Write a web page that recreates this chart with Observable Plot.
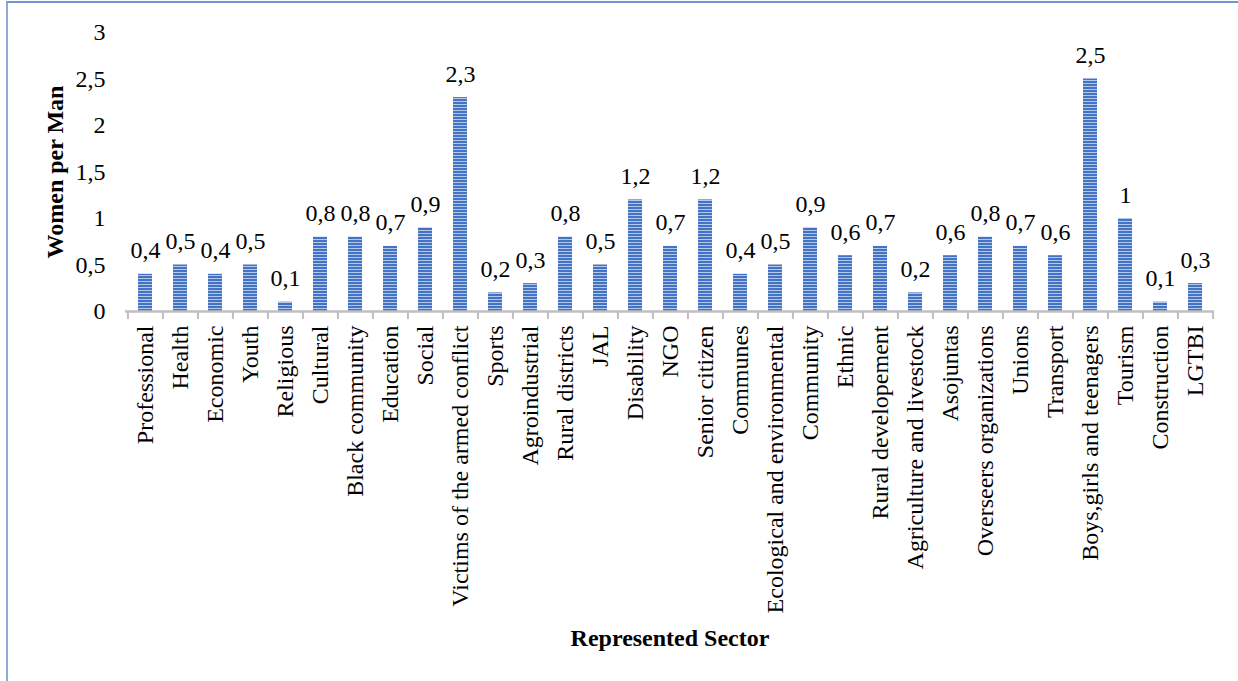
<!DOCTYPE html>
<html>
<head>
<meta charset="utf-8">
<script src="https://cdn.jsdelivr.net/npm/d3@7"></script>
<script src="https://cdn.jsdelivr.net/npm/@observablehq/plot@0.6"></script>
<style>
  html, body { margin: 0; padding: 0; background: #fff; overflow: hidden; }
  #frame {
    position: absolute; left: 6px; top: 1px; width: 1400px; height: 900px;
    border-left: 2px solid #8eaadb; border-top: 2px solid #6f95d6;
    box-sizing: border-box;
  }
  #chart { position: absolute; left: 0; top: 0; }
  #chart svg text { font-family: 'Liberation Serif', 'Times New Roman', serif; }
</style>
</head>
<body>
<div id="frame"></div>
<div id="chart"></div>
<script>
// Women per man in each represented sector
const sectors = [
  "Professional", "Health", "Economic", "Youth", "Religious", "Cultural",
  "Black community", "Education", "Social", "Victims of the armed conflict",
  "Sports", "Agroindustrial", "Rural districts", "JAL", "Disability", "NGO",
  "Senior citizen", "Communes", "Ecological and environmental", "Community",
  "Ethnic", "Rural developement", "Agriculture and livestock", "Asojuntas",
  "Overseers organizations", "Unions", "Transport", "Boys,girls and teenagers",
  "Tourism", "Construction", "LGTBI"
];
const womenPerMan = [
  0.4, 0.5, 0.4, 0.5, 0.1, 0.8,
  0.8, 0.7, 0.9, 2.3,
  0.2, 0.3, 0.8, 0.5, 1.2, 0.7,
  1.2, 0.4, 0.5, 0.9,
  0.6, 0.7, 0.2, 0.6,
  0.8, 0.7, 0.6, 2.5,
  1, 0.1, 0.3
];
const yTicks = [0, 0.5, 1, 1.5, 2, 2.5, 3];

const rows = sectors.map((s, i) => ({sector: s, value: womenPerMan[i]}));
const comma = v => String(v).replace(".", ",");

const W = 1238, H = 681;
const mL = 125, mR = 24, mT = 32, mB = 370;
const step = (W - mL - mR) / sectors.length;
const serif = "'Liberation Serif', 'Times New Roman', serif";

const plot = Plot.plot({
  width: W,
  height: H,
  marginLeft: mL,
  marginRight: mR,
  marginTop: mT,
  marginBottom: mB,
  style: {fontFamily: serif, fontSize: "24px", color: "#000", background: "transparent"},
  x: {domain: sectors, paddingInner: 0.6, paddingOuter: 0.3},
  y: {domain: [0, 3]},
  marks: [
    Plot.axisY(yTicks, {tickSize: 0, tickPadding: 20, tickFormat: comma, label: null, fontSize: 24}),
    Plot.barY(rows, {x: "sector", y: "value", fill: "url(#stripes)"}),
    Plot.ruleY([0], {stroke: "#bfbfbf", strokeWidth: 2.5}),
    // category separators along the baseline
    Plot.axisX({tickSize: 8, text: null, dx: -step / 2, stroke: "#bfbfbf", strokeWidth: 2, label: null}),
    Plot.axisX([sectors[sectors.length - 1]], {tickSize: 8, text: null, dx: step / 2, stroke: "#bfbfbf", strokeWidth: 2, label: null}),
    Plot.axisX({tickSize: 0, tickPadding: 14, tickRotate: -90, fontSize: 24, label: null}),
    Plot.text(rows, {x: "sector", y: "value", text: d => comma(d.value), dy: -16, lineAnchor: "bottom", fontSize: 24}),
    Plot.text(["Women per Man"], {frameAnchor: "left", textAnchor: "middle", rotate: -90, dx: -70, fontWeight: "bold", fontSize: 24}),
    Plot.text(["Represented Sector"], {frameAnchor: "bottom", dy: 334, lineAnchor: "bottom", fontWeight: "bold", fontSize: 24})
  ]
});

// striped fill used by the bars
const ns = "http://www.w3.org/2000/svg";
const defs = document.createElementNS(ns, "defs");
const pat = document.createElementNS(ns, "pattern");
pat.setAttribute("id", "stripes");
pat.setAttribute("patternUnits", "userSpaceOnUse");
pat.setAttribute("width", 6);
pat.setAttribute("height", 3);
const base = document.createElementNS(ns, "rect");
base.setAttribute("width", 6); base.setAttribute("height", 3); base.setAttribute("fill", "#4472c4");
const line = document.createElementNS(ns, "rect");
line.setAttribute("y", 2); line.setAttribute("width", 6); line.setAttribute("height", 1); line.setAttribute("fill", "#b4c7e7");
pat.appendChild(base); pat.appendChild(line);
defs.appendChild(pat);
plot.insertBefore(defs, plot.firstChild);

document.getElementById("chart").appendChild(plot);
</script>
</body>
</html>
